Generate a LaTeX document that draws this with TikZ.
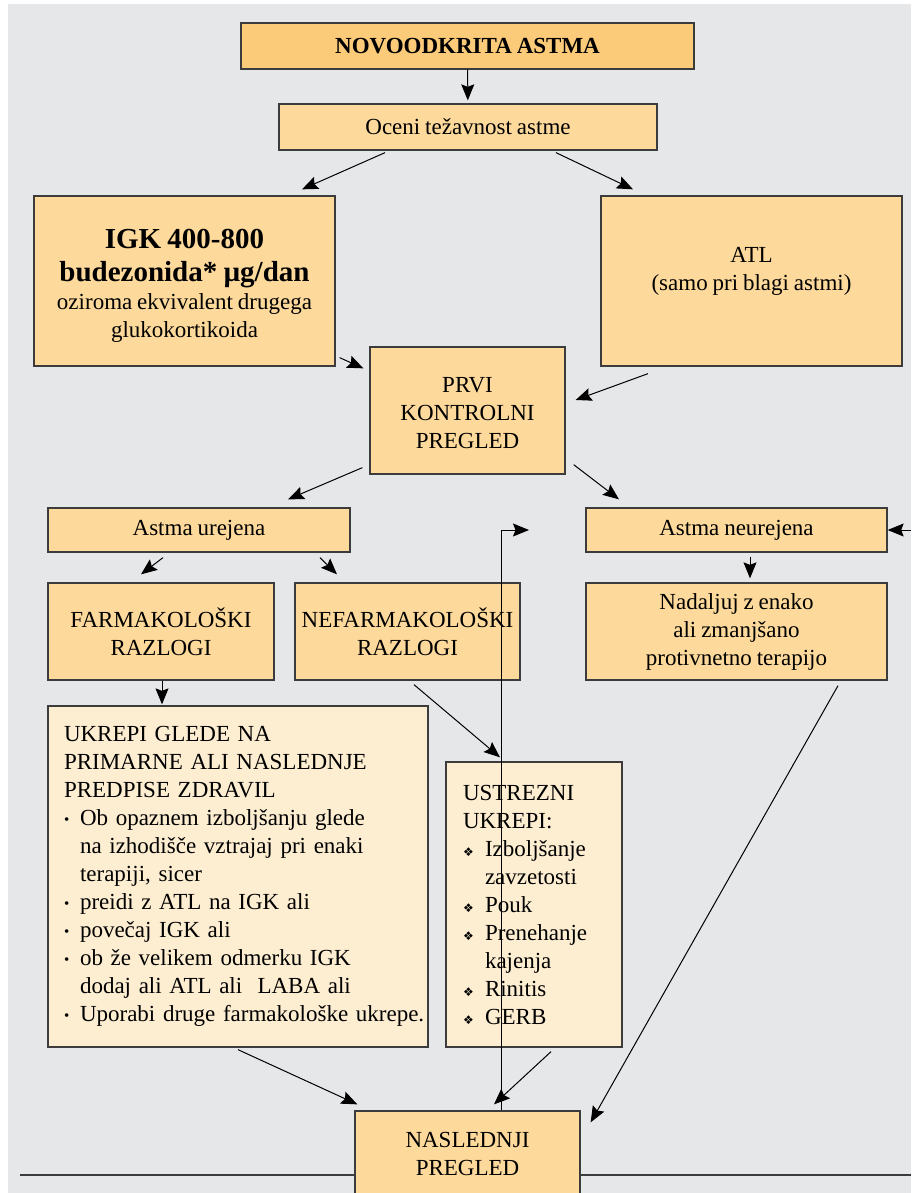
\documentclass[tikz,border=0pt]{standalone}
\usepackage{fontspec}
\setmainfont[WordSpace=0.85]{Liberation Serif}
\newfontfamily\dingfont{DejaVu Sans}
\usetikzlibrary{arrows.meta}
\definecolor{bggray}{HTML}{E6E7E9}
\definecolor{boxorange}{HTML}{FDD99B}
\definecolor{headorange}{HTML}{FCCB7A}
\definecolor{notecream}{HTML}{FDEDD1}
\definecolor{edgegray}{HTML}{3C3C3C}
\tikzset{
    box/.style={draw=edgegray, line width=1.3pt, fill=boxorange, inner sep=0pt,
                align=center, font=\fontsize{23}{28}\selectfont},
    head/.style={box, fill=headorange, font=\fontsize{23}{28}\selectfont\bfseries},
    note/.style={box, fill=notecream, align=left},
    boxtext/.style={align=center, inner sep=0pt, font=\fontsize{23}{28}\selectfont},
    flow/.style={-{Stealth[length=16pt,width=13pt,inset=2.5pt]}, line width=1pt, draw=black},
    rule/.style={line width=1.3pt, draw=edgegray},
}
\newcommand{\bul}{\makebox[16pt][l]{\raisebox{1.5pt}{\fontsize{15}{15}\selectfont\textbullet}}}
\newcommand{\bulgap}{\hspace*{16pt}}
\newcommand{\diabul}{\makebox[22pt][l]{\dingfont\fontsize{12}{12}\selectfont ❖}}
\newcommand{\diagap}{\hspace*{22pt}}

\begin{document}
\begin{tikzpicture}[x=1pt, y=-1pt]

    \useasboundingbox (0,0) rectangle (911,1193);
    \clip (0,0) rectangle (911,1193);
    \fill[bggray] (8,4) rectangle (911,1193);

    % bottom rule
    \coordinate (rulel) at (20,1175);
    \coordinate (ruler) at (911,1175);
    \draw[rule] (rulel) -- (ruler);

    \node[head, minimum width=453pt, minimum height=46pt] (novo) at (467.5,46) {NOVOODKRITA ASTMA};
    \node[box, minimum width=378pt, minimum height=46pt] (oceni) at (468,127) {Oceni težavnost astme};
    \node[box, minimum width=301pt, minimum height=170pt] (igk) at (184.5,281) {};
    \node[boxtext] (igktext) at (184.5,286)
        {{\fontsize{29}{33}\selectfont\bfseries IGK 400-800}\\[5pt]
         {\fontsize{29}{33}\selectfont\bfseries budezonida* µg/dan}\\
         oziroma ekvivalent drugega\\
         glukokortikoida};
    \node[box, minimum width=301pt, minimum height=170pt] (atl) at (751.5,281) {};
    \node[boxtext] (atltext) at (751.5,271) {ATL\\(samo pri blagi astmi)};
    \node[box, minimum width=195pt, minimum height=127pt] (prvi) at (467.5,410.5) {};
    \node[boxtext] (prvitext) at (467.5,413) {PRVI\\KONTROLNI\\PREGLED};

    \node[box, minimum width=302pt, minimum height=44pt] (urej) at (199,530) {Astma urejena};
    \node[box, minimum width=301pt, minimum height=44pt] (neurej) at (736.5,530) {Astma neurejena};
    \node[box, minimum width=226pt, minimum height=97pt] (farma) at (161,631.5) {FARMAKOLOŠKI\\RAZLOGI};
    \node[box, minimum width=225pt, minimum height=97pt] (nefarma) at (407.5,631.5) {NEFARMAKOLOŠKI\\RAZLOGI};
    \node[box, minimum width=301pt, minimum height=97pt] (nadalj) at (736.5,631.5)
        {Nadaljuj z enako\\ali zmanjšano\\protivnetno terapijo};

    \node[note, inner xsep=16pt, text width=348pt, minimum height=341pt] (ukrepi) at (238,876.5)
        {UKREPI GLEDE NA\\
         PRIMARNE ALI NASLEDNJE\\
         PREDPISE ZDRAVIL\\
         \bul Ob opaznem izboljšanju glede\\
         \bulgap na izhodišče vztrajaj pri enaki\\
         \bulgap terapiji, sicer\\
         \bul preidi z ATL na IGK ali\\
         \bul povečaj IGK ali\\
         \bul ob že velikem odmerku IGK\\
         \bulgap dodaj ali ATL ali\ \ LABA ali\\
         \mbox{\bul Uporabi druge farmakološke ukrepe.}};
    \node[note, inner xsep=17pt, text width=142pt, minimum height=285pt] (ustrez) at (534,904.5)
        {USTREZNI\\
         UKREPI:\\
         \diabul Izboljšanje\\
         \diagap zavzetosti\\
         \diabul Pouk\\
         \diabul Prenehanje\\
         \diagap kajenja\\
         \diabul Rinitis\\
         \diabul GERB};

    \node[box, minimum width=225pt, minimum height=86pt] (nasl) at (467.5,1154) {NASLEDNJI\\PREGLED};

    % connectors
    \draw[flow, shorten >=3pt] (novo) -- (oceni);
    \draw[flow] ([shift={(-83,2)}]oceni.south) -- ([shift={(117.5,-6)}]igk.north);
    \draw[flow] ([shift={(88,2)}]oceni.south) -- ([shift={(-118.5,-6)}]atl.north);
    \draw[flow] ([shift={(4,-9)}]igk.south east) -- ([shift={(-6,22)}]prvi.north west);
    \draw[flow] ([shift={(-103.5,7)}]atl.south) -- ([shift={(10,-10.5)}]prvi.east);
    \draw[flow] ([shift={(-7,-7)}]prvi.south west) -- ([shift={(89,-8)}]urej.north);
    \draw[flow] ([shift={(8,-10)}]prvi.south east) -- ([shift={(-117.5,-8)}]neurej.north);
    \draw[flow] ([shift={(-36,5)}]urej.south) -- ([shift={(-20,-8)}]farma.north);
    \draw[flow] ([shift={(121,5)}]urej.south) -- ([shift={(-70.5,-8)}]nefarma.north);
    \draw[flow] ([shift={(13.5,4)}]neurej.south) -- ([shift={(13.5,-4)}]nadalj.north);
    \draw[flow] ([shift={(1,0)}]farma.south) -- ([shift={(-76,-1)}]ukrepi.north);
    \draw[flow] ([shift={(6.5,4)}]nefarma.south) -- ([shift={(-34,-4)}]ustrez.north);
    \draw[flow] ([shift={(101.5,5)}]nadalj.south) -- ([shift={(10,12)}]nasl.north east);
    \draw[flow] ([shift={(0,2)}]ukrepi.south) -- ([shift={(3,-6)}]nasl.north west);
    \draw[flow] ([shift={(17,4)}]ustrez.south) -- ([shift={(26.5,-6)}]nasl.north);

    % loop back
    \coordinate (loopend) at (529,530);
    \coordinate (rightin) at (911,530);
    \draw[flow] ([shift={(33.5,0)}]nasl.north) |- (loopend);
    \draw[flow] (rightin) -- (neurej);

\end{tikzpicture}
\end{document}
